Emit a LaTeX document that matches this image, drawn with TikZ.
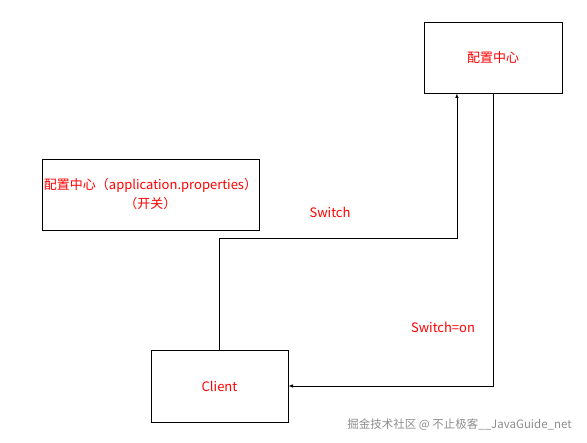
\documentclass[tikz,border=0pt]{standalone}
\usepackage{fontspec}
\setmainfont{Noto Sans CJK SC}
\usetikzlibrary{positioning,arrows,calc}

\begin{document}
\begin{tikzpicture}[x=1pt, y=-1pt,
    box/.style={rectangle, draw=black, thick, minimum width=138pt, minimum height=71pt, align=center, inner sep=0pt},
    redtext/.style={text=red, font=\fontsize{13}{19}\selectfont},
    arrow/.style={->,>=latex,semithick},
    watermark/.style={text=black!45, font=\fontsize{11.5}{14}\selectfont}
]
    \useasboundingbox (0,0) rectangle (587,443);

    \node[box, redtext] (center) at (493,57.5) {配置中心};

    \node[box, redtext, minimum width=217pt] (props) at (150.5,194.5) {
        配置中心（application.properties）\\
        （开关）
    };

    \node[box, redtext, minimum width=137pt, minimum height=72pt] (client) at (219.5,386) {Client};

    \coordinate (centerin) at ($(center.south west)!0.24!(center.south east)$);

    \draw[arrow] (client.north) |- ([yshift=-145pt]centerin) -- (centerin);
    \draw[arrow] (center.south) |- (client.east);

    \node[redtext] (switch) at (330,212) {Switch};
    \node[redtext] (switchon) at (443,327) {Switch=on};

    \node[watermark] (mark) at (459.5,425) {掘金技术社区 @ 不止极客\_\_JavaGuide\_net};
\end{tikzpicture}
\end{document}
